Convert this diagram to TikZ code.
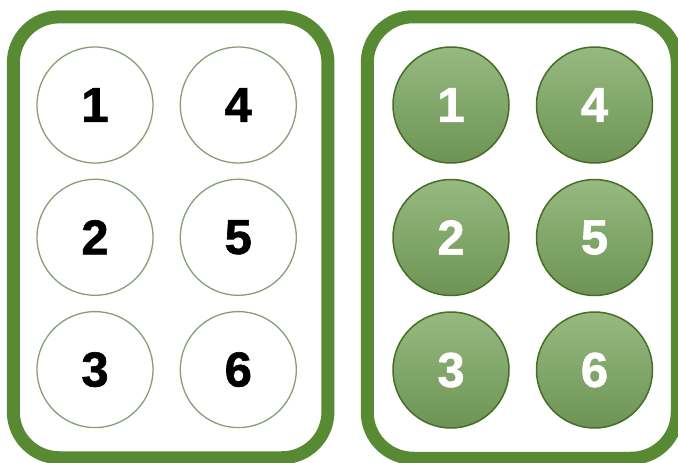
\documentclass[tikz,border=0pt]{standalone}
\usepackage{fontspec}
\setmainfont{Liberation Sans}
\newfontfamily\digitfont{Liberation Sans Bold}[FakeBold=1.3]
\usetikzlibrary{positioning,fit}
\definecolor{trayg}{HTML}{578A33}
\definecolor{cellg}{HTML}{7CA860}
\tikzset{tray/.style={draw=trayg, line width=13pt, rounded corners=46pt},
  cellempty/.style={circle, draw=trayg!55!gray!80, line width=1.3pt, fill=white, minimum size=116pt, inner sep=0pt, font=\digitfont\fontsize{49}{49}\selectfont, text=black},
  cellfull/.style={circle, draw=trayg!80!black, line width=1.5pt, top color=cellg!80!white, bottom color=cellg!88!black, minimum size=116pt, inner sep=0pt, font=\digitfont\fontsize{49}{49}\selectfont, text=white}}

\begin{document}
\begin{tikzpicture}[x=1pt, y=1pt]
\useasboundingbox[fill=white] (0,0) rectangle (678,-463);
% empty tray
\node[cellempty] (l1) at (95,-105) {1};
\node[cellempty, below=15pt of l1] (l2) {2};
\node[cellempty, below=15pt of l2] (l3) {3};
\node[cellempty, right=26pt of l1] (l4) {4};
\node[cellempty, right=26pt of l2] (l5) {5};
\node[cellempty, right=26pt of l3] (l6) {6};
\node[tray, fit=(l1)(l6), inner xsep=27pt, inner ysep=29.5pt, xshift=4pt] (trayl) {};
% filled tray
\node[cellfull] (r1) at (451,-105) {1};
\node[cellfull, below=15pt of r1] (r2) {2};
\node[cellfull, below=15pt of r2] (r3) {3};
\node[cellfull, right=26pt of r1] (r4) {4};
\node[cellfull, right=26pt of r2] (r5) {5};
\node[cellfull, right=26pt of r3] (r6) {6};
\node[tray, fit=(r1)(r6), inner xsep=24.5pt, inner ysep=29.5pt, xshift=-0.5pt] (trayr) {};
\end{tikzpicture}
\end{document}
